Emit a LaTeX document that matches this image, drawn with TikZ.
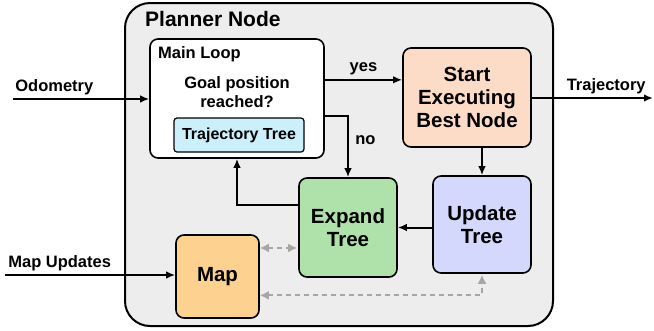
\documentclass[tikz,border=0pt]{standalone}
\usepackage{fontspec}
\setmainfont{Liberation Sans}
\usetikzlibrary{arrows.meta, positioning}

\definecolor{plannergray}{HTML}{EDEDED}
\definecolor{startfill}{HTML}{FCDCC6}
\definecolor{updatefill}{HTML}{D4D8FC}
\definecolor{expandfill}{HTML}{AEE2AA}
\definecolor{mapfill}{HTML}{FDD18F}
\definecolor{treefill}{HTML}{CBEFFB}
\definecolor{datagray}{HTML}{A6A6A6}

\begin{document}
\begin{tikzpicture}[x=1pt, y=-1pt,
	block/.style={draw, line width=1.6pt, rounded corners=8pt, inner sep=0pt, align=center, font=\fontsize{20.5}{23}\selectfont\bfseries},
	flow/.style={-{Latex[length=9pt, width=7.5pt]}, line width=2pt},
	data/.style={{Latex[length=9pt, width=9pt]}-{Latex[length=9pt, width=9pt]}, line width=2.2pt, draw=datagray, color=datagray, dash pattern=on 5pt off 4pt, shorten >=1pt},
	tag/.style={font=\fontsize{16.5}{19}\selectfont\bfseries}]

	\useasboundingbox (0,0) rectangle (654,330);

	% planner frame
	\node[draw, line width=2pt, fill=plannergray, rounded corners=25pt, minimum width=428pt, minimum height=323pt] (planner) at (339,164.5) {};
	\node[anchor=west, font=\fontsize{21}{24}\selectfont\bfseries, inner sep=0pt] (title) at (145,19) {Planner Node};

	% main loop with its tree
	\node[block, fill=white, minimum width=174pt, minimum height=119pt] (main) at (237,98.5) {};
	\node[tag, anchor=west, inner sep=0pt] (mainlabel) at (158,54) {Main Loop};
	\node[tag, align=center, inner sep=0pt] (goal) at (237,92) {Goal position\\reached?};
	\node[block, line width=1.2pt, rounded corners=3pt, fill=treefill, minimum width=130pt, minimum height=34pt, font=\fontsize{16}{19}\selectfont\bfseries] (tree) at (239,135) {Trajectory Tree};

	% steps
	\node[block, fill=startfill, minimum width=128pt, minimum height=99pt] (start) at (467,97.5) {Start\\Executing\\Best Node};
	\node[block, fill=updatefill, minimum width=98pt, minimum height=97pt] (update) at (482,224.5) {Update\\Tree};
	\node[block, fill=expandfill, minimum width=98pt, minimum height=99pt] (expand) at (348,227.5) {Expand\\Tree};
	\node[block, fill=mapfill, minimum width=83pt, minimum height=83pt] (map) at (217.5,276.5) {Map};

	% inputs and output
	\coordinate (odometry) at (13,99);
	\coordinate (mapin) at (5,275);
	\coordinate (trajout) at (653,98);

	\draw[flow] (odometry) -- node[tag, pos=0, anchor=south west, xshift=-2pt] {Odometry} (main.west |- odometry);
	\draw[flow] (mapin) -- node[tag, pos=0, anchor=south west, xshift=-1pt] {Map Updates} (map.west |- mapin);
	\draw[flow] (start.east |- trajout) -- node[tag, pos=1, anchor=south east, xshift=-3pt] {Trajectory} (trajout);

	\draw[flow] (main.12) -- node[tag, above, yshift=1pt] {yes} (main.12 -| start.west);
	\draw[flow] (main.-11) -| node[tag, pos=0.7, right, xshift=3pt] {no} (expand.north);
	\draw[flow] (update.north |- start.south) -- (update.north);
	\draw[flow] (update.west |- expand.east) -- (expand.east);
	\draw[flow] (expand.156) -| (main.south);

	% map access
	\draw[data] (map.34) -- (map.34 -| expand.west);
	\draw[data] (map.-24) -| (update.south);

\end{tikzpicture}
\end{document}
